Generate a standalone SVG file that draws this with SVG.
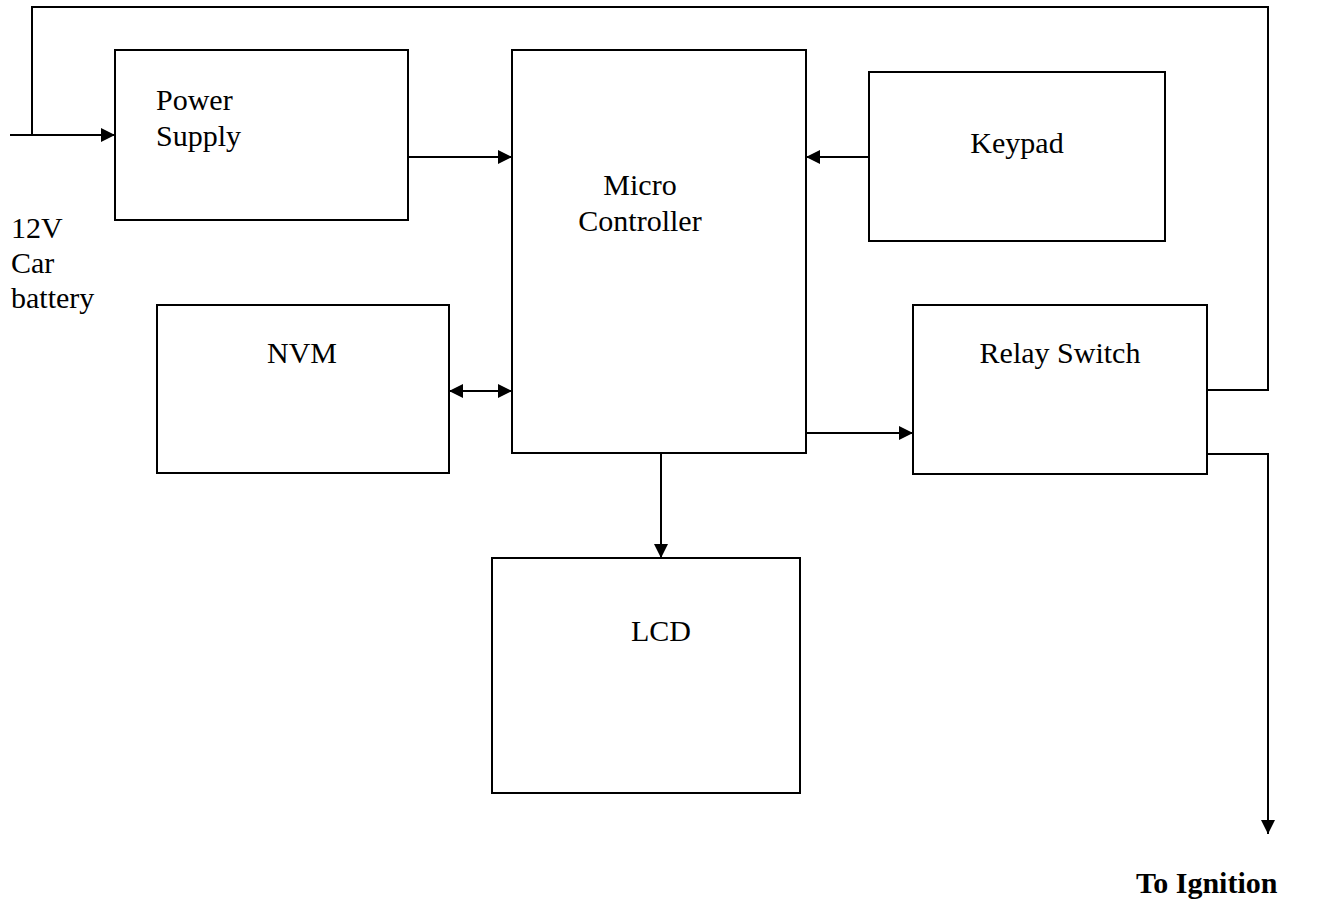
<svg xmlns="http://www.w3.org/2000/svg" width="1334" height="903" viewBox="0 0 1334 903">
<style>
.box{fill:none;stroke:#000;stroke-width:2}
.w{fill:none;stroke:#000;stroke-width:2}
.t{font-family:"Liberation Serif",serif;font-size:30px;fill:#000}
.c{text-anchor:middle}
</style>
<defs>
<marker id="ah" viewBox="0 0 14 14" refX="14" refY="7" markerWidth="14" markerHeight="14" markerUnits="userSpaceOnUse" orient="auto-start-reverse">
<path d="M0,0 L14,7 L0,14 Z" fill="#000"/>
</marker>
</defs>
<rect width="1334" height="903" fill="#fff"/>
<g id="connectors">
<polyline class="w" points="1207,390 1268,390 1268,7 32,7 32,135" stroke-width="1.5"/>
<line class="w" x1="10" y1="135" x2="115" y2="135" marker-end="url(#ah)"/>
<line class="w" x1="408" y1="157" x2="512" y2="157" marker-end="url(#ah)"/>
<line class="w" x1="869" y1="157" x2="806" y2="157" marker-end="url(#ah)"/>
<line class="w" x1="449" y1="391" x2="512" y2="391" marker-start="url(#ah)" marker-end="url(#ah)"/>
<line class="w" x1="806" y1="433" x2="913" y2="433" stroke-width="1.5" marker-end="url(#ah)"/>
<line class="w" x1="661" y1="453" x2="661" y2="558" marker-end="url(#ah)"/>
<polyline class="w" points="1207,454 1268,454 1268,834" marker-end="url(#ah)"/>
</g>
<g id="power-supply">
<rect class="box" x="115" y="50" width="293" height="170"/>
<text class="t" x="156" y="110">Power</text>
<text class="t" x="156" y="146">Supply</text>
</g>
<g id="micro-controller">
<rect class="box" x="512" y="50" width="294" height="403"/>
<text class="t c" x="640" y="195">Micro</text>
<text class="t c" x="640" y="231">Controller</text>
</g>
<g id="keypad">
<rect class="box" x="869" y="72" width="296" height="169"/>
<text class="t c" x="1017" y="153">Keypad</text>
</g>
<g id="nvm">
<rect class="box" x="157" y="305" width="292" height="168"/>
<text class="t c" x="302" y="363">NVM</text>
</g>
<g id="relay-switch">
<rect class="box" x="913" y="305" width="294" height="169"/>
<text class="t c" x="1060" y="363">Relay Switch</text>
</g>
<g id="lcd">
<rect class="box" x="492" y="558" width="308" height="235"/>
<text class="t c" x="661" y="641">LCD</text>
</g>
<g id="battery-label">
<text class="t" x="11" y="238">12V</text>
<text class="t" x="11" y="273">Car</text>
<text class="t" x="11" y="308">battery</text>
</g>
<g id="ignition-label">
<text class="t" x="1136" y="893" font-weight="bold" font-size="31">To Ignition</text>
</g>
</svg>
